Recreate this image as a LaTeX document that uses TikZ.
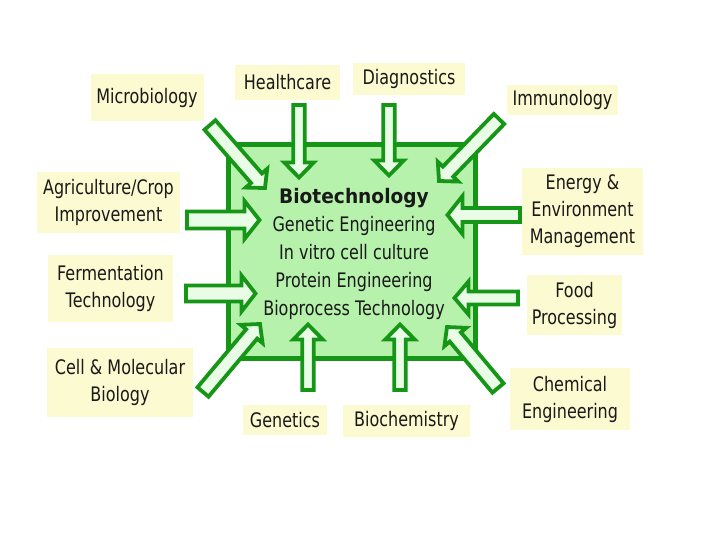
\documentclass[tikz,border=0pt]{standalone}
\usepackage{fontspec}
\setmainfont{DejaVu Sans}[FakeStretch=0.8]
\newfontfamily\biofont{DejaVu Sans}[FakeStretch=0.93]
\usetikzlibrary{calc}
\definecolor{agreen}{RGB}{22,150,22}
\definecolor{afill}{RGB}{232,252,230}
\definecolor{boxfill}{RGB}{182,242,172}
\definecolor{labfill}{RGB}{252,250,208}
\definecolor{txt}{RGB}{25,25,25}
\tikzset{
  arrowsty/.style={draw=agreen, fill=afill, line width=3.8pt, line join=miter, miter limit=10},
  labsty/.style={fill=labfill, inner sep=0pt, align=center, text=txt, font=\fontsize{20}{27}\selectfont},
  biobox/.style={draw=agreen, fill=boxfill, line width=5pt, inner sep=0pt},
}
% tail, tip, shaft half width, head half width, head length
\newcommand{\blockarr}[5]{%
  \path ($(#2)!#5!(#1)$) coordinate (bh);
  \draw[arrowsty] ($(#1)!#3!90:(#2)$) -- ($(bh)!#3!90:(#2)$) -- ($(bh)!#4!90:(#2)$) -- (#2)
    -- ($(bh)!#4!-90:(#2)$) -- ($(bh)!#3!-90:(#2)$) -- ($(#1)!#3!-90:(#2)$) -- cycle;}
\begin{document}
\begin{tikzpicture}[x=1pt,y=-1pt]
\useasboundingbox[fill=white] (0,0) rectangle (720,540);
% central box
\node[biobox, minimum width=247pt, minimum height=213pt] (bio) at (351.5,251.5) {};
\node[text=txt, align=center, font=\fontsize{20}{28}\selectfont] (biotxt) at (354,254)
  {{\biofont\bfseries Biotechnology}\\Genetic Engineering\\In vitro cell culture\\Protein Engineering\\Bioprocess Technology};
% labels
\node[labsty, minimum width=113pt, minimum height=47pt] (micro) at (147,98) {Microbiology};
\node[labsty, minimum width=105pt, minimum height=35pt] (health) at (287.5,82.5) {Healthcare};
\node[labsty, minimum width=112pt, minimum height=32pt] (diag) at (409,79) {Diagnostics};
\node[labsty, minimum width=111pt, minimum height=30pt] (immuno) at (562.5,100) {Immunology};
\node[labsty, minimum width=143pt, minimum height=61pt] (agri) at (108.5,202.5) {Agriculture/Crop\\Improvement};
\node[labsty, minimum width=121pt, minimum height=87pt] (energy) at (582.5,211.5) {Energy \&\\Environment\\Management};
\node[labsty, minimum width=125pt, minimum height=67pt] (ferm) at (110.5,288.5) {Fermentation\\Technology};
\node[labsty, minimum width=95pt, minimum height=60pt] (food) at (574.5,305) {Food\\Processing};
\node[labsty, minimum width=146pt, minimum height=69pt] (cell) at (120,382.5) {Cell \& Molecular\\Biology};
\node[labsty, minimum width=120pt, minimum height=62pt] (chem) at (570,399) {Chemical\\Engineering};
\node[labsty, minimum width=84pt, minimum height=30pt] (genetics) at (285,420) {Genetics};
\node[labsty, minimum width=127pt, minimum height=32pt] (biochem) at (406.5,421) {Biochemistry};
% arrow end points
\coordinate (hT) at (299,105);  \coordinate (hH) at (299,177.5);
\coordinate (dT) at (389,105);  \coordinate (dH) at (389,175.5);
\coordinate (gT) at (308,390);  \coordinate (gH) at (308,324.5);
\coordinate (bT) at (400,390);  \coordinate (bH) at (400,324.5);
\coordinate (aT) at (187,220);  \coordinate (aH) at (259.5,220);
\coordinate (fT) at (186,293.5);\coordinate (fH) at (255.5,293.5);
\coordinate (eT) at (520,215);  \coordinate (eH) at (447.5,215);
\coordinate (pT) at (518,298);  \coordinate (pH) at (454.5,298);
\coordinate (mT) at (210,125);  \coordinate (mH) at (265,188);
\coordinate (iT) at (499,119);  \coordinate (iH) at (439,181);
\coordinate (cT) at (203,392);  \coordinate (cH) at (260,324);
\coordinate (kT) at (498,388);  \coordinate (kH) at (447,327);
% arrows
\blockarr{hT}{hH}{5.75pt}{14.75pt}{15pt}
\blockarr{dT}{dH}{5.75pt}{14.75pt}{15pt}
\blockarr{gT}{gH}{5.75pt}{14.75pt}{15pt}
\blockarr{bT}{bH}{5.75pt}{14.75pt}{15pt}
\blockarr{aT}{aH}{8.5pt}{19pt}{15pt}
\blockarr{fT}{fH}{8pt}{18pt}{14pt}
\blockarr{eT}{eH}{7pt}{19pt}{15pt}
\blockarr{pT}{pH}{6.5pt}{16.5pt}{14pt}
\blockarr{mT}{mH}{7.25pt}{14.25pt}{13pt}
\blockarr{iT}{iH}{7.25pt}{14.25pt}{13pt}
\blockarr{cT}{cH}{7.25pt}{14.25pt}{13pt}
\blockarr{kT}{kH}{7.25pt}{14.25pt}{13pt}
\end{tikzpicture}
\end{document}
